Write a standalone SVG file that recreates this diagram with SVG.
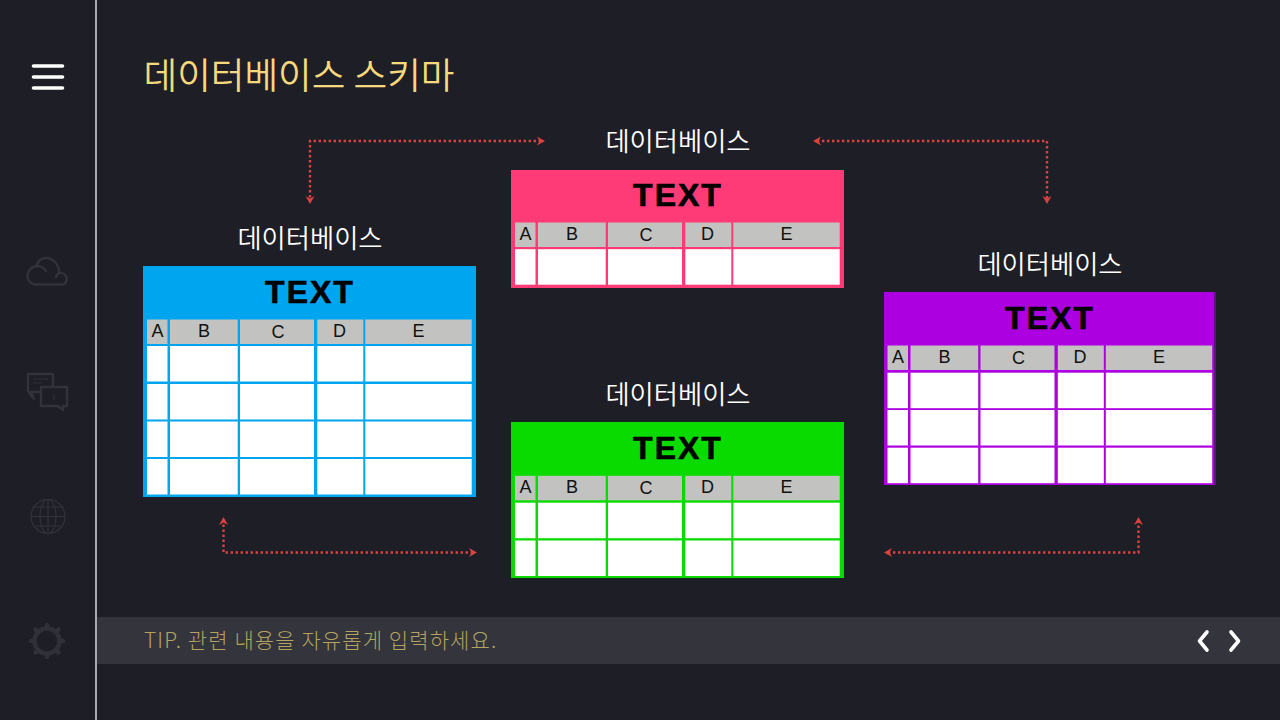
<svg xmlns="http://www.w3.org/2000/svg" width="1280" height="720" viewBox="0 0 1280 720">
<style>
.ko{font-family:"Noto Sans CJK KR","Noto Sans",sans-serif}
.cap{font-size:26.300px;fill:#fff;text-anchor:middle;font-weight:350}
.ttl{font-family:"Liberation Sans",Arial,sans-serif;font-weight:700;font-size:32px;fill:#000;stroke:#000;stroke-width:.6px;text-anchor:middle;letter-spacing:2px}
.col{font-family:"Liberation Sans",Arial,sans-serif;font-size:18px;fill:#111;text-anchor:middle}
.h{fill:#c2c2c0}.c{fill:#fff}
.link{fill:none;stroke:#d9433f;stroke-width:2.400;stroke-dasharray:2.400 2.600;marker-start:url(#ah);marker-end:url(#ah)}
.ic{fill:none;stroke:#31323a;stroke-width:2.400;stroke-linejoin:round;stroke-linecap:round}
.ic2{fill:none;stroke:#31323a;stroke-width:1.200}
</style>
<defs>
<marker id="ah" markerUnits="userSpaceOnUse" markerWidth="14" markerHeight="14" refX="5" refY="7" orient="auto-start-reverse"><path d="M1 2.500L9 7L1 11.500L3.500 7Z" fill="#d9433f"/></marker>
<g id="cols"><rect class="h" x="4" width="20.500" height="24.500"/><rect class="h" x="27" width="67.700" height="24.500"/><rect class="h" x="97" width="74" height="24.500"/><rect class="h" x="174.300" width="46" height="24.500"/><rect class="h" x="222.300" width="106.400" height="24.500"/></g>
<g id="row"><rect class="c" x="4" width="20.500" height="35.500"/><rect class="c" x="27" width="67.700" height="35.500"/><rect class="c" x="97" width="74" height="35.500"/><rect class="c" x="174.300" width="46" height="35.500"/><rect class="c" x="222.300" width="106.400" height="35.500"/></g>
<g id="labels"><text class="col" x="14.500" y="17">A</text><text class="col" x="61" y="17">B</text><text class="col" x="135" y="18.500">C</text><text class="col" x="196.500" y="17">D</text><text class="col" x="275.500" y="17">E</text></g>
</defs>
<rect width="1280" height="720" fill="#1d1e26"/>
<rect x="95" width="2" height="720" fill="#a9a9b1"/>
<g id="menu" stroke="#fff" stroke-width="3.600" stroke-linecap="round"><path d="M33.500 66H62.500M33.500 77H62.500M33.500 88H62.500"/></g>
<g id="icon-cloud"><path class="ic" d="M36 284.500H62C66.500 284.500 67.500 279 66 276C65 274 62 272.500 59 273C59.500 265 53 258 46 258C41 258 38 261 36.500 266C31 266.500 27.500 271 27.500 276C27.500 281 31 284.500 36 284.500ZM36.500 266C40 266 44 268 46 271M59 273C57.500 274 56.500 275.500 56 277"/></g>
<g id="icon-chat"><path class="ic" d="M41 392H31L34 399L28 391V374H53V386"/><path class="ic" d="M41 387H67V406H63V410L58 406H41Z"/><path class="ic2" d="M33 379H48M33 383H42M54 394V400"/></g>
<g id="icon-globe"><circle class="ic2" cx="48" cy="516.500" r="17"/><ellipse class="ic2" cx="48" cy="516.500" rx="8" ry="17"/><path class="ic2" d="M48 499.500V533.500M31 516.500H65M34 507H62M34 526H62"/></g>
<g id="icon-gear"><circle cx="47" cy="641" r="12.500" fill="none" stroke="#2f3038" stroke-width="4.500"/><path d="M47 625V628M47 654V657M31 641H34M60 641H63M35.500 629.500L38 632M56 650L58.500 652.500M58.500 629.500L56 632M38 650L35.500 652.500" stroke="#2f3038" stroke-width="4.500" stroke-linecap="round"/></g>
<text id="title" class="ko" x="143.500" y="89" font-size="36.600" fill="#f6d97c" font-weight="350">데이터베이스 스키마</text>
<g id="connectors">
<path class="link" d="M541 141H310V200"/>
<path class="link" d="M817 141H1047V200"/>
<path class="link" d="M473 552.500H223.500V521"/>
<path class="link" d="M888 552.500H1138.500V521"/>
</g>
<g id="table-pink">
<text class="ko cap" x="678" y="151">데이터베이스</text>
<rect x="511" y="170" width="333" height="118" fill="#ff3b77"/>
<text class="ttl" x="678" y="206">TEXT</text>
<g transform="translate(511,222.500)"><use href="#cols"/><use href="#labels"/></g>
<use href="#row" transform="translate(511,249.200)"/>
</g>
<g id="table-blue">
<text class="ko cap" x="310" y="248">데이터베이스</text>
<rect x="143" y="266" width="333" height="231" fill="#00a5f0"/>
<text class="ttl" x="310" y="303">TEXT</text>
<g transform="translate(143,319.500)"><use href="#cols"/><use href="#labels"/></g>
<use href="#row" transform="translate(143,346)"/><use href="#row" transform="translate(143,384)"/><use href="#row" transform="translate(143,421.500)"/><use href="#row" transform="translate(143,459)"/>
</g>
<g id="table-purple">
<text class="ko cap" x="1050" y="274">데이터베이스</text>
<rect x="884" y="292" width="330" height="193" fill="#ad00e0"/>
<rect x="1214" y="292" width="2" height="193" fill="#ad00e0" opacity=".5"/>
<text class="ttl" x="1050" y="329">TEXT</text>
<g transform="translate(883.500,345.500)"><use href="#cols"/><use href="#labels"/></g>
<use href="#row" transform="translate(883.500,372.700)"/><use href="#row" transform="translate(883.500,410)"/><use href="#row" transform="translate(883.500,447.700)"/>
</g>
<g id="table-green">
<text class="ko cap" x="678" y="404">데이터베이스</text>
<rect x="511" y="422" width="333" height="156" fill="#09da00"/>
<text class="ttl" x="678" y="459">TEXT</text>
<g transform="translate(511,475.800)"><use href="#cols"/><use href="#labels"/></g>
<use href="#row" transform="translate(511,502.700)"/><use href="#row" transform="translate(511,540.500)"/>
</g>
<g id="tip">
<rect x="97" y="617" width="1183" height="47" fill="#33343c"/>
<text class="ko" x="144" y="648" font-size="21" letter-spacing="1.100" fill="#b3a45f" font-weight="300">TIP. 관련 내용을 자유롭게 입력하세요.</text>
<path d="M1207 632L1199.500 641L1207 650M1231 632L1238.500 641L1231 650" fill="none" stroke="#fff" stroke-width="3.600" stroke-linecap="round" stroke-linejoin="round"/>
</g>
</svg>
